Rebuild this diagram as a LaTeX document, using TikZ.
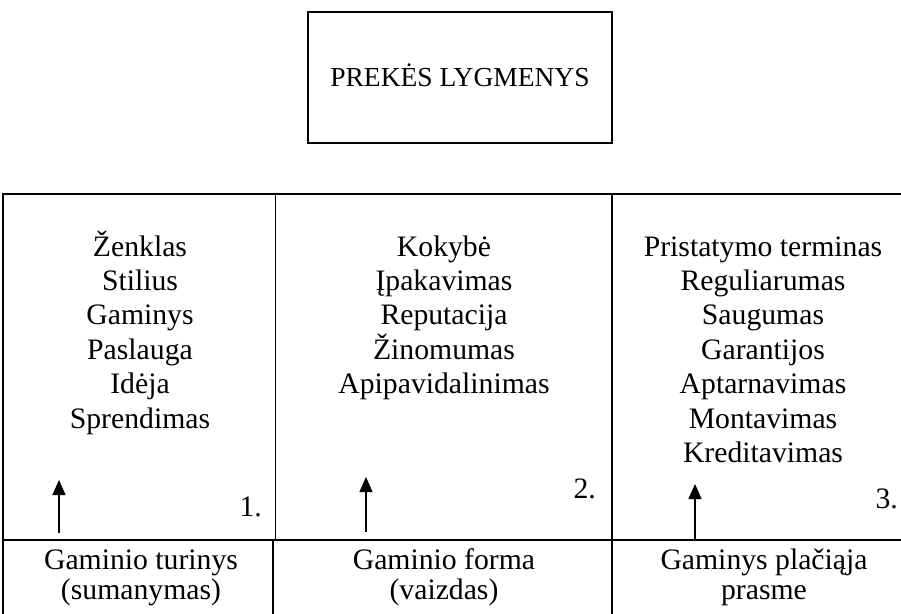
\documentclass[tikz,border=0pt]{standalone}
\usepackage{fontspec}
\setmainfont{Liberation Serif}
\usetikzlibrary{arrows.meta}
\begin{document}
\begin{tikzpicture}[x=1pt,y=-1pt,
  rule/.style={line width=1.8pt},
  heading/.style={draw, rule, inner sep=0pt, minimum width=304pt, minimum height=131pt,
    text height=18.2pt, text depth=0pt, font=\fontsize{27.5}{31}\selectfont},
  % multi-line nodes sit on the baseline of their last line
  items/.style={font=\fontsize{29.7}{34.4}\selectfont, align=center, anchor=base, inner sep=0pt},
  caption/.style={font=\fontsize{29.7}{30.5}\selectfont, align=center, anchor=base, inner sep=0pt},
  levelno/.style={font=\fontsize{29.7}{34.4}\selectfont, anchor=base east, inner sep=0pt},
  up/.style={-{Triangle[length=15pt,width=13pt]}, line width=1.2pt}]
\useasboundingbox (0,0) rectangle (901,613);
\clip (0,0) rectangle (901,613);

% heading box
\node[heading] (title) at (460,77.5) {PREKĖS LYGMENYS};

% table grid (runs on past the right and bottom edges)
\draw[rule] (3,630) -- (3,194) -- (920,194);
\draw[rule] (3,540) -- (920,540);
\draw[rule] (275.5,194) -- (275.5,540);
\draw[rule] (273.3,540) -- (273.3,630);
\draw[rule] (611.7,194) -- (611.7,630);

% level contents
\node[items] (lvl1) at (140,428) {Ženklas\\Stilius\\Gaminys\\Paslauga\\Idėja\\Sprendimas};
\node[items] (lvl2) at (444,393.6) {Kokybė\\Įpakavimas\\Reputacija\\Žinomumas\\Apipavidalinimas};
\node[items] (lvl3) at (763,462.4) {Pristatymo terminas\\Reguliarumas\\Saugumas\\Garantijos\\Aptarnavimas\\Montavimas\\Kreditavimas};

% level numbers
\node[levelno] (no1) at (262,516) {1.};
\node[levelno] (no2) at (596,498) {2.};
\node[levelno] (no3) at (898,508) {3.};

% level names
\node[caption] (name1) at (141,599.5) {Gaminio turinys\\(sumanymas)};
\node[caption] (name2) at (444,599.5) {Gaminio forma\\(vaizdas)};
\node[caption] (name3) at (764,599.5) {Gaminys plačiąja\\prasme};

% upward arrows
\coordinate (a1s) at (59,533);   \coordinate (a1e) at (59,480);
\coordinate (a2s) at (366,532);  \coordinate (a2e) at (366,477);
\coordinate (a3s) at (695,539);  \coordinate (a3e) at (695,484);
\draw[up] (a1s) -- (a1e);
\draw[up] (a2s) -- (a2e);
\draw[up] (a3s) -- (a3e);
\end{tikzpicture}
\end{document}
